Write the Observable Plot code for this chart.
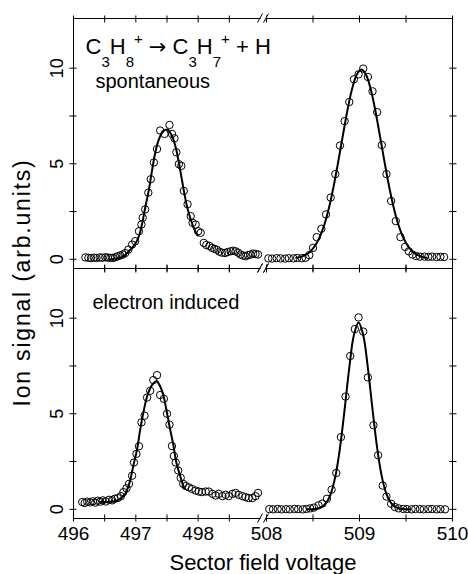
<!DOCTYPE html>
<html>
<head>
<meta charset="utf-8">
<script src="https://cdn.jsdelivr.net/npm/d3@7"></script>
<script src="https://cdn.jsdelivr.net/npm/@observablehq/plot@0.6"></script>
<style>
  body { margin: 0; background: #fff; }
  svg text { white-space: pre; }
</style>
</head>
<body>
<div id="chart"></div>
<script>
// ---------- labels ----------
const panels = ["spontaneous", "electron induced"];
const titleParts = [["C","n"],["3","sub"],["H","n"],["8","sub"],["+","sup"],[" ","n"],["\u2192","arrow"],[" ","n"],["C","n"],["3","sub"],["H","n"],["7","sub"],["+","sup"],[" + H","n"]];
const xTitle = "Sector field voltage";
const yTitle = "Ion signal (arb.units)";

// ---------- axes ----------
const xMajorTicks = [496, 497, 498, 508, 509, 510];
const xMinorTicks = [496.5, 497.5, 498.5, 508.5, 509.5];
const yMajorTicks = [0, 5, 10];
const yMinorTicks = [2.5, 7.5];
const xBreak = [499, 508];          // axis break between the two voltage windows
const xDomain = [496, 499, 508, 510];
const yDomain = [-0.48, 12.6];

// ---------- data: spontaneous (top) ----------
const spontLeftX = [496.19,496.24,496.28,496.33,496.37,496.42,496.46,496.51,496.55,496.59,496.63,496.67,496.71,496.75,496.79,496.83,496.88,496.94,496.99,497.05,497.09,497.11,497.15,497.20,497.24,497.29,497.34,497.39,497.46,497.54,497.58,497.62,497.65,497.69,497.73,497.77,497.83,497.88,497.91,497.96,498.00,498.04,498.09,498.13,498.18,498.22,498.26,498.30,498.34,498.38,498.43,498.47,498.52,498.56,498.60,498.64,498.68,498.72,498.76,498.80,498.84,498.88,498.92,498.96];
const spontLeftY = [0.10,0.08,0.06,0.09,0.07,0.10,0.08,0.11,0.09,0.08,0.07,0.11,0.16,0.20,0.25,0.33,0.51,0.77,0.95,1.47,1.82,2.18,2.61,3.49,4.19,5.07,5.77,6.74,6.56,7.03,6.56,6.33,5.60,4.98,4.89,3.58,2.88,2.26,1.91,1.82,1.47,1.39,0.86,0.75,0.70,0.60,0.55,0.50,0.40,0.35,0.33,0.38,0.42,0.45,0.42,0.35,0.25,0.20,0.16,0.22,0.25,0.30,0.28,0.25];
const spontRightX = [508.02,508.06,508.11,508.15,508.20,508.24,508.29,508.33,508.38,508.42,508.46,508.50,508.54,508.59,508.64,508.69,508.74,508.79,508.84,508.89,508.94,508.99,509.04,509.09,509.14,509.19,509.24,509.29,509.34,509.39,509.44,509.49,509.53,509.57,509.61,509.65,509.70,509.74,509.78,509.83,509.87,509.91];
const spontRightY = [0.05,0.04,0.06,0.05,0.04,0.06,0.05,0.07,0.06,0.08,0.22,0.60,1.16,1.60,2.35,3.23,4.46,5.95,7.23,8.23,9.42,9.68,9.98,9.54,8.79,7.70,5.98,4.46,3.05,2.00,1.16,0.65,0.42,0.25,0.17,0.14,0.14,0.13,0.14,0.12,0.13,0.12];
const spontFitLeftX = [496.59,496.70,496.80,496.91,496.99,497.05,497.10,497.15,497.21,497.26,497.31,497.37,497.44,497.51,497.58,497.64,497.69,497.74,497.78,497.83,497.89,497.94,497.99];
const spontFitLeftY = [0.00,0.05,0.16,0.50,0.80,1.22,1.85,2.70,3.65,4.65,5.55,6.28,6.70,6.78,6.45,5.85,5.07,4.15,3.42,2.65,2.00,1.55,1.25];
const spontFitRightX = [508.32,508.37,508.42,508.47,508.52,508.57,508.62,508.67,508.72,508.77,508.82,508.87,508.92,508.97,509.02,509.07,509.12,509.17,509.22,509.27,509.32,509.37,509.42,509.47,509.52,509.57,509.62,509.67,509.72];
const spontFitRightY = [0.08,0.13,0.23,0.41,0.70,1.14,1.78,2.66,3.77,5.07,6.45,7.79,8.91,9.66,9.93,9.66,8.91,7.79,6.45,5.07,3.77,2.66,1.78,1.14,0.70,0.41,0.23,0.13,0.08];

// ---------- data: electron induced (bottom) ----------
const inducedLeftX = [496.14,496.18,496.22,496.27,496.31,496.35,496.39,496.43,496.47,496.52,496.57,496.62,496.66,496.71,496.76,496.80,496.85,496.89,496.94,496.97,497.01,497.05,497.09,497.14,497.18,497.23,497.28,497.34,497.39,497.45,497.50,497.54,497.58,497.61,497.64,497.68,497.72,497.76,497.80,497.85,497.90,497.96,498.01,498.06,498.12,498.17,498.23,498.28,498.33,498.39,498.44,498.49,498.55,498.60,498.65,498.71,498.76,498.81,498.87,498.92,498.96];
const inducedLeftY = [0.38,0.33,0.40,0.36,0.42,0.35,0.45,0.40,0.47,0.41,0.50,0.47,0.55,0.59,0.69,0.90,1.10,1.33,1.76,2.45,2.90,3.30,4.55,4.90,5.85,6.20,6.76,7.02,5.98,5.78,5.00,4.43,3.31,2.79,2.45,2.03,1.65,1.33,1.22,1.15,1.07,0.98,0.93,0.90,0.93,0.93,0.81,0.72,0.81,0.69,0.76,0.69,0.81,0.86,0.76,0.69,0.64,0.59,0.59,0.69,0.86];
const inducedRightX = [508.03,508.07,508.12,508.16,508.21,508.25,508.30,508.34,508.39,508.43,508.47,508.51,508.56,508.60,508.65,508.70,508.75,508.80,508.85,508.90,508.95,508.99,509.04,509.09,509.15,509.20,509.25,509.29,509.34,509.38,509.42,509.47,509.51,509.56,509.60,509.65,509.69,509.74,509.78,509.83,509.87,509.92];
const inducedRightY = [0.01,0.00,0.02,0.00,0.01,0.00,0.02,0.01,0.00,0.02,0.05,0.09,0.21,0.30,0.55,1.03,1.90,3.78,5.90,8.02,9.43,10.04,9.30,6.90,4.40,2.83,1.24,0.67,0.29,0.12,0.05,0.02,0.01,0.00,0.02,0.01,0.00,0.01,0.02,0.00,0.01,0.00];
const inducedFitLeftX = [496.43,496.64,496.75,496.83,496.90,496.96,497.02,497.07,497.13,497.18,497.23,497.29,497.33,497.38,497.44,497.49,497.54,497.60,497.65,497.71,497.76,497.78];
const inducedFitLeftY = [0.38,0.41,0.55,0.81,1.41,2.28,3.14,4.17,5.21,5.90,6.33,6.62,6.72,6.50,5.98,5.21,4.35,3.40,2.45,1.76,1.24,1.10];
const inducedFitRightX = [508.44,508.49,508.54,508.59,508.64,508.69,508.74,508.79,508.84,508.89,508.94,508.99,509.04,509.09,509.14,509.19,509.24,509.29,509.34,509.39,509.44,509.49,509.54];
const inducedFitRightY = [0.00,0.01,0.03,0.11,0.32,0.80,1.71,3.21,5.23,7.40,9.12,9.78,9.12,7.40,5.23,3.21,1.71,0.80,0.32,0.11,0.03,0.01,0.00];

// ---------- build tables ----------
function rows(xs, ys, panel, seg) {
  if (xs.length !== ys.length) throw new Error(`length mismatch ${panel} ${seg}: ${xs.length} vs ${ys.length}`);
  return xs.map((x, i) => ({x, y: ys[i], panel, seg}));
}
const circles = [
  ...rows(spontLeftX, spontLeftY, panels[0], "L"),
  ...rows(spontRightX, spontRightY, panels[0], "R"),
  ...rows(inducedLeftX, inducedLeftY, panels[1], "L"),
  ...rows(inducedRightX, inducedRightY, panels[1], "R")
];
const fits = [
  ...rows(spontFitLeftX, spontFitLeftY, panels[0], "L"),
  ...rows(spontFitRightX, spontFitRightY, panels[0], "R"),
  ...rows(inducedFitLeftX, inducedFitLeftY, panels[1], "L"),
  ...rows(inducedFitRightX, inducedFitRightY, panels[1], "R")
];
const titleText = titleParts.map(p => p[0]).join("");
const allXTicks = [...xMajorTicks, ...xMinorTicks];
const allYTicks = [...yMajorTicks, ...yMinorTicks];
const noLabel = () => "";

// axis-break symbols, placed through the scales
function breakMarks(index, scales) {
  const g = d3.create("svg:g");
  const xa = scales.x(xBreak[0]), xb = scales.x(xBreak[1]);
  const ys = [scales.y(yDomain[0]), scales.y(yDomain[1])];
  for (const y of ys) {
    g.append("rect").attr("x", xa + 0.6).attr("y", y - 2.5).attr("width", xb - xa - 1.2).attr("height", 5).attr("fill", "white");
    for (const x of [xa, xb]) {
      g.append("line").attr("x1", x - 2.5).attr("y1", y + 4.5).attr("x2", x + 2.5).attr("y2", y - 4.5)
        .attr("stroke", "black").attr("stroke-width", 1);
    }
  }
  return g.node();
}

const chart = Plot.plot({
  width: 468,
  height: 574,
  marginTop: 17,
  marginBottom: 56,
  marginLeft: 73,
  marginRight: 16,
  style: {fontFamily: "'Liberation Sans', Arial, sans-serif", fontSize: "18px", color: "black", background: "white"},
  x: {type: "linear", domain: xDomain, range: [73, 260, 266, 452]},
  y: {domain: yDomain},
  fy: {domain: panels, padding: 0, axis: null},
  marks: [
    Plot.frame({stroke: "black", strokeWidth: 1}),
    Plot.axisX(allXTicks, {anchor: "bottom", tickSize: 7, dy: -3.5, tickFormat: noLabel, label: null, facetAnchor: null, strokeWidth: 1}),
    Plot.axisX(allXTicks, {anchor: "top", tickSize: 7, dy: 3.5, tickFormat: noLabel, label: null, facetAnchor: null, strokeWidth: 1}),
    Plot.axisY(allYTicks, {anchor: "left", tickSize: 7, dx: 3.5, tickFormat: noLabel, label: null, facetAnchor: null, strokeWidth: 1}),
    Plot.axisY(allYTicks, {anchor: "right", tickSize: 7, dx: -3.5, tickFormat: noLabel, label: null, facetAnchor: null, strokeWidth: 1}),
    Plot.axisX(xMajorTicks, {anchor: "bottom", tickSize: 0, tickPadding: 8, tickFormat: d => String(d), label: null, fontSize: 19}),
    Plot.text(yMajorTicks, {y: d => d, text: d => String(d), frameAnchor: "left", dx: -11, rotate: -90, textAnchor: "middle", lineAnchor: "bottom", fontSize: 18}),
    Plot.dot(circles, {x: "x", y: "y", fy: "panel", r: 3.7, stroke: "black", strokeWidth: 1, fill: "none"}),
    Plot.line(fits, {x: "x", y: "y", z: "seg", fy: "panel", stroke: "black", strokeWidth: 2, curve: "catmull-rom"}),
    breakMarks,
    Plot.text([titleText], {fy: () => panels[0], text: d => d, frameAnchor: "top-left", dx: 12, dy: 35, textAnchor: "start", lineAnchor: "bottom", fontSize: 22}),
    Plot.text([panels[0]], {fy: d => d, text: d => d, frameAnchor: "top-left", dx: 22, dy: 69, textAnchor: "start", lineAnchor: "bottom", fontSize: 20}),
    Plot.text([panels[1]], {fy: d => d, text: d => d, frameAnchor: "top-left", dx: 19, dy: 40, textAnchor: "start", lineAnchor: "bottom", fontSize: 20}),
    Plot.text([xTitle], {fy: () => panels[1], text: d => d, frameAnchor: "bottom", dy: 51, textAnchor: "middle", lineAnchor: "bottom", fontSize: 22}),
    Plot.text([yTitle], {fy: () => panels[0], text: d => d, frameAnchor: "bottom-left", dx: -60, dy: 14, rotate: -90, textAnchor: "middle", lineAnchor: "top", fontSize: 23})
  ]
});

const svgSel = d3.select(chart);
// y title is letter-spaced in the original
svgSel.selectAll("text").filter(function() { return this.textContent === yTitle; }).style("letter-spacing", "1.8px");
// chemical formula: subscripts / superscripts as tspans
svgSel.selectAll("text").filter(function() { return this.textContent === titleText; }).each(function() {
  const t = d3.select(this);
  t.text(null);
  let shift = 0;
  for (const [s, kind] of titleParts) {
    const target = kind === "sub" ? 13 : kind === "sup" ? -10 : 0;
    const ts = t.append("tspan").attr("dy", target - shift).text(s);
    if (kind === "sub" || kind === "sup") ts.attr("font-size", 15);
    if (kind === "arrow") ts.attr("font-family", "'DejaVu Sans', sans-serif").attr("font-size", 21);
    shift = target;
  }
});

document.getElementById("chart").append(chart);
</script>
</body>
</html>
